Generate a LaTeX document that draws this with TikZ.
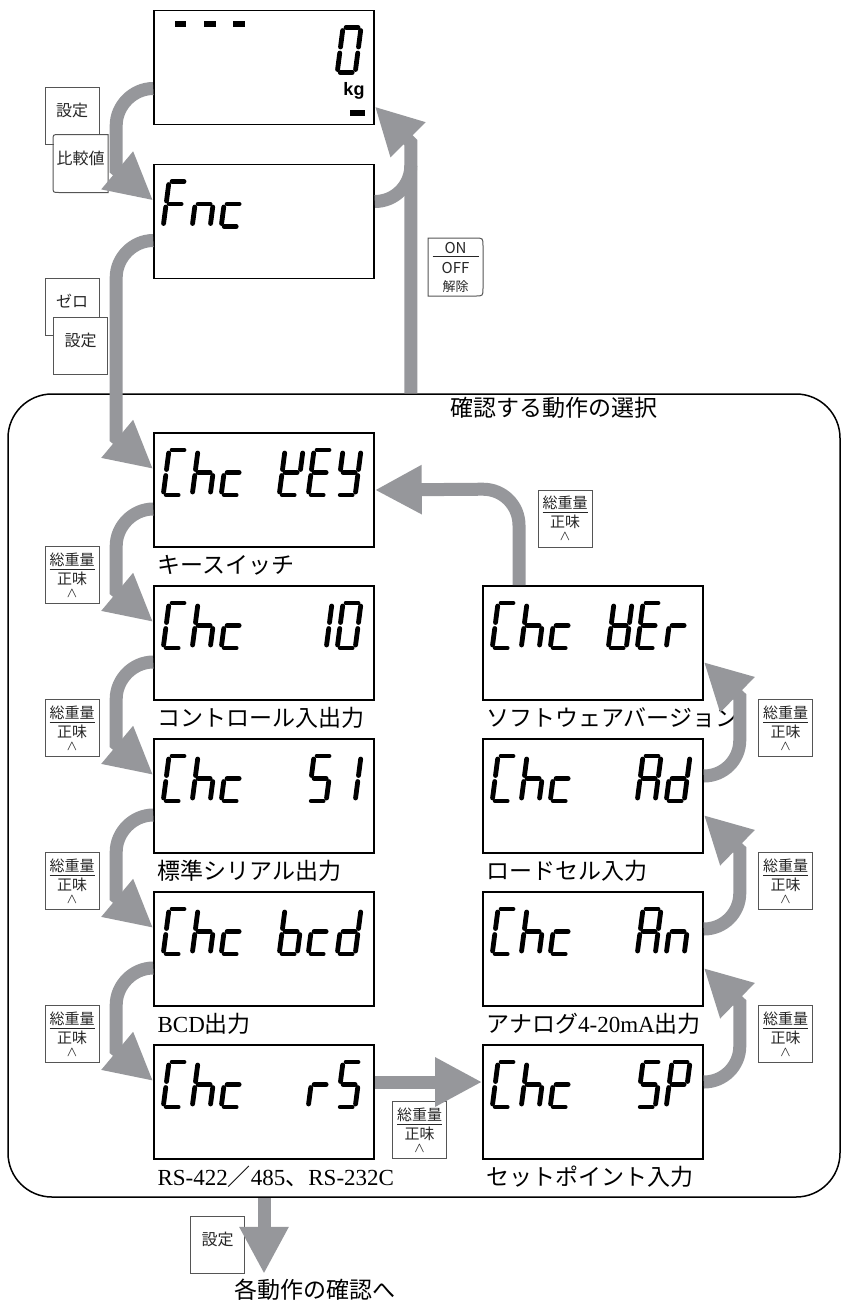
\documentclass[tikz,border=0pt]{standalone}
\usepackage{fontspec}
\setmainfont{Liberation Serif}
\newfontfamily\jp{Noto Sans CJK JP}
\newfontfamily\lat{Liberation Sans}
\usetikzlibrary{arrows.meta,calc}
\definecolor{flowgray}{RGB}{150,151,155}
\definecolor{keygray}{RGB}{85,85,85}
\tikzset{
  lcdbox/.style={draw=black, line width=0.8pt, minimum width=110pt, minimum height=57pt, inner sep=0pt},
  lcdseg/.style={line width=2.4pt, line cap=round},
  flow/.style={draw=flowgray, line width=6.5pt, -{Triangle[length=23.5pt,width=23pt]}},
  flowline/.style={draw=flowgray, line width=6.5pt},
  keyframe/.style={draw=keygray, fill=white, line width=0.5pt, minimum width=27pt,
    minimum height=28.5pt, inner sep=0pt, text=black!85},
  keybox/.style={keyframe, font=\jp\fontsize{8}{9}\selectfont, text depth=6pt},
  netkey/.style={keyframe, align=center, font=\jp\fontsize{7.5}{9.5}\selectfont},
  keyedge/.style={draw=keygray, line width=0.5pt},
  caption/.style={anchor=west, inner sep=0pt, font=\jp\fontsize{11.5}{12}\selectfont},
}
% seven segment glyphs
\pgfkeys{/lcd/.cd,
  sa/.code={\draw[lcdseg] (3,-45) -- (15,-45);},
  sb/.code={\draw[lcdseg] (18,-42) -- (18,-25.5);},
  sc/.code={\draw[lcdseg] (18,-19.5) -- (18,-3);},
  sd/.code={\draw[lcdseg] (3,0) -- (15,0);},
  se/.code={\draw[lcdseg] (0,-3) -- (0,-19.5);},
  sf/.code={\draw[lcdseg] (0,-25.5) -- (0,-42);},
  sg/.code={\draw[lcdseg] (3,-22.5) -- (15,-22.5);},
  x/.code={},
  C/.style={sa,sf,se,sd},
  h/.style={sf,se,sg,sc},
  c/.style={sg,se,sd},
  k/.style={sf,sb,sg,se,sd},
  E/.style={sa,sf,sg,se,sd},
  Y/.style={sf,sb,sg,sc,sd},
  1/.style={sb,sc},
  0/.style={sa,sb,sc,sd,se,sf},
  5/.style={sa,sf,sg,sc,sd},
  b/.style={sf,se,sg,sc,sd},
  d/.style={sb,sc,sg,se,sd},
  v/.style={sf,sb,sg,se,sc,sd},
  r/.style={sg,se},
  A/.style={sa,sb,sc,se,sf,sg},
  n/.style={sg,se,sc},
  P/.style={sa,sb,sf,sg,se},
  F/.style={sa,sf,sg,se},
}
\newcommand{\lcdrow}[2]{%
  \foreach \ch [count=\i from 0] in {#2}{%
    \begin{scope}[shift={($(#1.west)+(10+29*\i,5)$)}, xslant=0.13]
      \edef\lcdtmp{\noexpand\pgfkeys{/lcd/.cd,\ch}}\lcdtmp
    \end{scope}}}

\begin{document}
\begin{tikzpicture}[x=0.5pt, y=-0.5pt]
    \useasboundingbox (0,0) rectangle (844,1303);
    % Cadre de selection
    \node[draw=black, line width=0.75pt, rounded corners=22pt, minimum width=416pt,
      minimum height=401.5pt, inner sep=0pt] (sel) at (424,795.5) {};
    \node[anchor=west, inner sep=0pt, font=\jp\fontsize{11.5}{12}\selectfont] (seltitle) at (450,408) {確認する動作の選択};
    % Afficheurs
    \node[lcdbox] (disp) at (264,67.5)  {};
    \node[lcdbox] (fnc)  at (264,221.5) {};
    \node[lcdbox] (yey)  at (264,490)   {};
    \node[lcdbox] (io)   at (264,643)   {};
    \node[lcdbox] (si)   at (264,796)   {};
    \node[lcdbox] (bcd)  at (264,949)   {};
    \node[lcdbox] (rs)   at (264,1102)  {};
    \node[lcdbox] (ver)  at (593,643)   {};
    \node[lcdbox] (ad)   at (593,796)   {};
    \node[lcdbox] (an)   at (593,949)   {};
    \node[lcdbox] (setp) at (593,1102)  {};
    \fill (175,21) rectangle (186,27);
    \fill (204,21) rectangle (216,27);
    \fill (233,21) rectangle (245,27);
    \fill (350,110) rectangle (365,116);
    \node[inner sep=0pt, font=\lat\bfseries\fontsize{9}{9}\selectfont] (kgunit) at (354,91) {kg};
    \lcdrow{disp}{x,x,x,x,x,x,0}
    \lcdrow{fnc}{F,n,c}
    \lcdrow{yey}{C,h,c,x,k,E,Y}
    \lcdrow{io}{C,h,c,x,x,1,0}
    \lcdrow{si}{C,h,c,x,x,5,1}
    \lcdrow{bcd}{C,h,c,x,b,c,d}
    \lcdrow{rs}{C,h,c,x,x,r,5}
    \lcdrow{ver}{C,h,c,x,v,E,r}
    \lcdrow{ad}{C,h,c,x,x,A,d}
    \lcdrow{an}{C,h,c,x,x,A,n}
    \lcdrow{setp}{C,h,c,x,x,5,P}
    % Legendes
    \node[caption] (capyey) at ($(yey.south west)+(4,17)$)  {キースイッチ};
    \node[caption] (capio)  at ($(io.south west)+(4,17)$)   {コントロール入出力};
    \node[caption] (capsi)  at ($(si.south west)+(4,17)$)   {標準シリアル出力};
    \node[caption] (capbcd) at ($(bcd.south west)+(4,17)$)  {{\rmfamily BCD}出力};
    \node[caption] (caprs)  at ($(rs.south west)+(4,17)$)   {{\rmfamily RS-422}／{\rmfamily 485}、{\rmfamily RS-232C}};
    \node[caption] (capver) at ($(ver.south west)+(4,17)$)  {ソフトウェアバージョン};
    \node[caption] (capad)  at ($(ad.south west)+(4,17)$)   {ロードセル入力};
    \node[caption] (capan)  at ($(an.south west)+(4,17)$)   {アナログ{\rmfamily 4-20mA}出力};
    \node[caption] (capsp)  at ($(setp.south west)+(4,17)$) {セットポイント入力};
    \node[inner sep=0pt, font=\jp\fontsize{11.5}{12}\selectfont] (nextstep) at (315,1290) {各動作の確認へ};
    % Touches
    \node[keybox] (kset1) at (72,115.5) {設定};
    \node[keybox, draw=none] (kcmp) at (80.5,163.5) {比較値};
    \draw[keyedge] (kcmp.north east) -- ($(kcmp.north west)+(6,0)$) .. controls (kcmp.north west) .. ($(kcmp.north west)+(0,6)$)
      -- ($(kcmp.south west)+(0,-6)$) .. controls (kcmp.south west) .. ($(kcmp.south west)+(6,0)$) -- (kcmp.south east) -- cycle;
    \node[keybox] (kzero) at (72,307) {ゼロ};
    \node[keybox] (kset2) at (80.5,345.5) {設定};
    \node[netkey, draw=none, font=\jp\fontsize{7.5}{10}\selectfont] (konoff) at (455.5,267)
      {\underline{\makebox[23pt]{ON}}\\OFF\\[-1pt]{\fontsize{6.5}{6.5}\selectfont 解除}};
    \draw[keyedge] (konoff.north west) -- ($(konoff.north east)+(-8,0)$) .. controls (konoff.north east) .. ($(konoff.north east)+(0,8)$)
      -- ($(konoff.south east)+(0,-8)$) .. controls (konoff.south east) .. ($(konoff.south east)+(-8,0)$) -- (konoff.south west) -- cycle;
    \node[netkey] (kg1) at (72,575)     {\underline{総重量}\\正味\\[-3pt]$\wedge$};
    \node[netkey] (kg2) at (72,728)     {\underline{総重量}\\正味\\[-3pt]$\wedge$};
    \node[netkey] (kg3) at (72,881)     {\underline{総重量}\\正味\\[-3pt]$\wedge$};
    \node[netkey] (kg4) at (72,1034)    {\underline{総重量}\\正味\\[-3pt]$\wedge$};
    \node[netkey] (kg5) at (565,518.5)  {\underline{総重量}\\正味\\[-3pt]$\wedge$};
    \node[netkey] (kg6) at (785.5,728)  {\underline{総重量}\\正味\\[-3pt]$\wedge$};
    \node[netkey] (kg7) at (785.5,881)  {\underline{総重量}\\正味\\[-3pt]$\wedge$};
    \node[netkey] (kg8) at (785.5,1034) {\underline{総重量}\\正味\\[-3pt]$\wedge$};
    \node[netkey] (kg9) at (419.5,1130) {\underline{総重量}\\正味\\[-3pt]$\wedge$};
    \node[keybox] (kset3) at (217.5,1244.5) {設定};
    % Fleches
    \draw[flow] ($(disp.west)+(0,21)$) .. controls +(-20,0) and +(0,-20) .. ($(disp.west)+(-37,58)$) -- ($(fnc.west)+(-37,-52)$) -- ($(fnc.west)+(0,-21)$);
    \draw[flow] ($(fnc.west)+(0,19)$) .. controls +(-20,0) and +(0,-20) .. ($(fnc.west)+(-37,56)$) -- ($(yey.west)+(-37,-52)$) -- ($(yey.west)+(0,-21)$);
    \draw[flow] ($(yey.west)+(0,19)$) .. controls +(-20,0) and +(0,-20) .. ($(yey.west)+(-37,56)$) -- ($(io.west)+(-37,-52)$) -- ($(io.west)+(0,-21)$);
    \draw[flow] ($(io.west)+(0,19)$) .. controls +(-20,0) and +(0,-20) .. ($(io.west)+(-37,56)$) -- ($(si.west)+(-37,-52)$) -- ($(si.west)+(0,-21)$);
    \draw[flow] ($(si.west)+(0,19)$) .. controls +(-20,0) and +(0,-20) .. ($(si.west)+(-37,56)$) -- ($(bcd.west)+(-37,-52)$) -- ($(bcd.west)+(0,-21)$);
    \draw[flow] ($(bcd.west)+(0,19)$) .. controls +(-20,0) and +(0,-20) .. ($(bcd.west)+(-37,56)$) -- ($(rs.west)+(-37,-52)$) -- ($(rs.west)+(0,-21)$);
    \draw[flow] ($(rs.east)+(0,-20)$) -- ($(setp.west)+(0,-20)$);
    \draw[flow] ($(setp.east)+(0,-20)$) .. controls +(20,0) and +(0,20) .. ($(setp.east)+(36,-56)$) -- ($(an.east)+(36,54)$) -- ($(an.east)+(0,19)$);
    \draw[flow] ($(an.east)+(0,-20)$) .. controls +(20,0) and +(0,20) .. ($(an.east)+(36,-56)$) -- ($(ad.east)+(36,54)$) -- ($(ad.east)+(0,19)$);
    \draw[flow] ($(ad.east)+(0,-20)$) .. controls +(20,0) and +(0,20) .. ($(ad.east)+(36,-56)$) -- ($(ver.east)+(36,54)$) -- ($(ver.east)+(0,19)$);
    \draw[flow] ($(ver.north)+(-74,0)$) -- ($(ver.north)+(-74,-60)$) .. controls +(0,-20) and +(20,0) .. ($(ver.north)+(-110,-96)$) -- (yey.east);
    \draw[flowline] ($(fnc.east)+(0,-20)$) .. controls +(20,0) and +(0,20) .. ($(fnc.east)+(36,-56)$);
    \coordinate (rx) at ($(disp.east)+(36,0)$);
    \draw[flow] (rx |- sel.north) -- ($(disp.east)+(36,75)$) -- ($(disp.east)+(0,39)$);
    \draw[flow, shorten >=2.5pt] (rs.south |- sel.south) -- (rs.south |- nextstep.north);
\end{tikzpicture}
\end{document}
